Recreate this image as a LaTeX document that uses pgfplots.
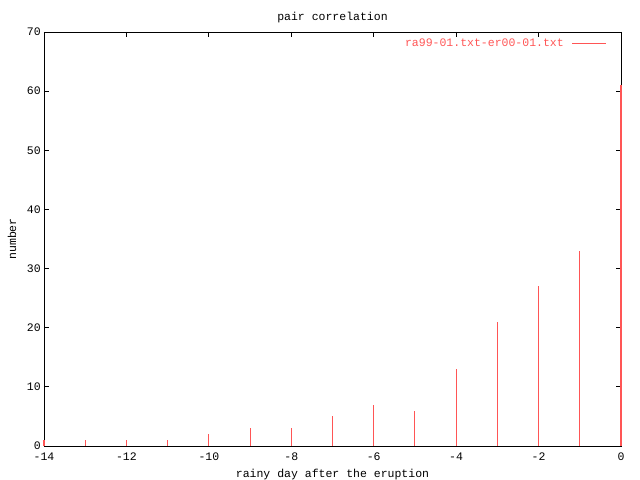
\documentclass[border=0pt]{standalone}
\usepackage{fontspec}
\setmainfont{Liberation Mono}
\setmonofont{Liberation Mono}
\usepackage{pgfplots}
\pgfplotsset{compat=1.18}
\definecolor{gpred}{RGB}{255,85,85}
\pgfplotstableread{
x y
-14 1
-13 1
-12 1
-11 1
-10 2
-9 3
-8 3
-7 5
-6 7
-5 6
-4 13
-3 21
-2 27
-1 33
0 61
}\pairdata
\begin{document}
\begin{tikzpicture}[x=1pt,y=1pt]
\begin{axis}[
  name=frame,
  scale only axis,
  width=577pt, height=414pt,
  xmin=-14, xmax=0, ymin=0, ymax=70,
  xtick={-14,-12,-10,-8,-6,-4,-2,0},
  xticklabels={-14,-12,-10,-8,-6,-4,-2,0},
  ytick={0,10,20,30,40,50,60,70},
  yticklabels={0,10,20,30,40,50,60,70},
  tick align=inside,
  major tick length=5pt,
  tick style={black, line width=0.8pt},
  axis line style={black, line width=0.8pt},
  font=\fontsize{11.5}{13}\selectfont,
  every axis title shift=0pt,
  title={pair correlation},
  title style={at={(axis description cs:0.5,1.034)}, anchor=center, inner sep=0pt},
  xlabel={rainy day after the eruption},
  xlabel style={at={(axis description cs:0.5,-0.068)}, anchor=center, inner sep=0pt},
  ylabel={number},
  ylabel style={at={(axis description cs:-0.0555,0.5)}, anchor=center, inner sep=0pt},
  xticklabel style={inner sep=0pt, yshift=-7pt},
  yticklabel style={inner sep=0pt, xshift=-3pt},
]
\addplot[draw=none, mark=none, forget plot] coordinates {(-14,0) (0,0)};
\end{axis}
\begin{axis}[
  scale only axis,
  width=577pt, height=414pt,
  xmin=-14, xmax=0, ymin=0, ymax=70,
  hide axis,
  clip=false,
  legend plot pos=right,
  legend style={draw=none, fill=none, at={(axis description cs:0.9757,0.9734)}, anchor=east, inner sep=0pt, font=\fontsize{11.5}{13}\selectfont\color{gpred}},
  legend image code/.code={\path (0pt,0pt); \draw[gpred, line width=0.9pt] (6pt,0pt) -- (40pt,0pt);},
]
\addplot[ycomb, gpred, line width=1.1pt, mark=none] table[x=x, y=y] {\pairdata};
\addlegendentry{ra99-01.txt-er00-01.txt}
\end{axis}
\path[use as bounding box] ([shift={(-44pt,-34pt)}]frame.south west) rectangle ([shift={(19pt,32pt)}]frame.north east);
\end{tikzpicture}
\end{document}
